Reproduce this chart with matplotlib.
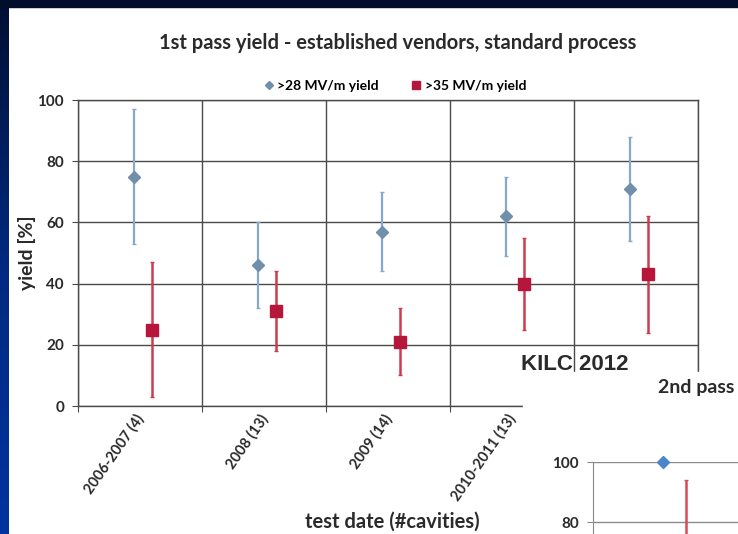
import matplotlib
matplotlib.use('Agg')
import matplotlib.pyplot as plt
from matplotlib.patches import Rectangle
from matplotlib.lines import Line2D
from matplotlib.colors import LinearSegmentedColormap
import numpy as np

plt.rcParams['font.family'] = ['Lato', 'DejaVu Sans']

# dados
categorias = ['2006-2007 (4)', '2008 (13)', '2009 (14)', '2010-2011 (13)', '']
y28 = [75, 46, 57, 62, 71]
y28_lo = [53, 32, 44, 49, 54]
y28_hi = [97, 60, 70, 75, 88]
y35 = [25, 31, 21, 40, 43]
y35_lo = [3, 18, 10, 25, 24]
y35_hi = [47, 44, 32, 55, 62]

# segundo grafico (parcialmente visivel)
y28_2nd = [100]
y35_2nd = [70]
y35_2nd_lo = [45]
y35_2nd_hi = [94]

W, H = 738, 534
fig = plt.figure(figsize=(W / 100, H / 100), dpi=100, facecolor='white')

def px(x0, y0, w, h):
    # retangulo em pixels (origem no topo) -> coordenadas da figura
    return [x0 / W, 1 - (y0 + h) / H, w / W, h / H]

# moldura do slide
fig.patches.append(Rectangle((0, 1 - 7 / H), 1, 7 / H, transform=fig.transFigure,
                             color='#000c2c', zorder=0))
ax_bg = fig.add_axes(px(0, 0, 9, H))
grad = np.linspace(0, 1, 256).reshape(-1, 1)
cm = LinearSegmentedColormap.from_list('slide', ['#000f33', '#002a80', '#0033a0'])
ax_bg.imshow(grad, aspect='auto', cmap=cm, extent=[0, 1, 1, 0])
ax_bg.axis('off')

# grafico principal
ax = fig.add_axes(px(78, 100, 620, 306))
x = np.arange(len(categorias))
grid_c = '#4a4a4a'
txt_c = '#2a2a2a'

ax.errorbar(x - 0.05, y28,
            yerr=[np.subtract(y28, y28_lo), np.subtract(y28_hi, y28)],
            fmt='D', color='#6f8fab', ecolor='#86a8cf', elinewidth=1.6,
            capsize=1.5, markersize=6, zorder=3)
ax.errorbar(x + 0.10, y35,
            yerr=[np.subtract(y35, y35_lo), np.subtract(y35_hi, y35)],
            fmt='s', color='#b5163a', ecolor='#cf3a4c', elinewidth=1.8,
            capsize=1.5, markersize=8, zorder=3)

ax.set_xlim(-0.5, len(categorias) - 0.5)
ax.set_ylim(0, 100)
ax.set_yticks([0, 20, 40, 60, 80, 100])
ax.set_xticks(np.arange(-0.5, len(categorias)), labels=[])
ax.set_xticks(x - 0.04, labels=categorias, minor=True)
ax.grid(True, which='major', color=grid_c, linewidth=1.0)
ax.tick_params(axis='x', which='minor', length=0, pad=4)
ax.tick_params(axis='x', which='major', length=4, color=grid_c)
ax.tick_params(axis='y', length=4, color=grid_c, labelsize=11, pad=6)
for lbl in ax.get_yticklabels():
    lbl.set_fontweight('bold')
    lbl.set_color(txt_c)
for lbl in ax.get_xticklabels(minor=True):
    lbl.set_rotation(55)
    lbl.set_ha('right')
    lbl.set_rotation_mode('anchor')
    lbl.set_fontsize(10.5)
    lbl.set_fontweight('bold')
    lbl.set_color(txt_c)
for s in ax.spines.values():
    s.set_color(grid_c)
    s.set_linewidth(1.0)
ax.set_ylabel('yield [%]', fontsize=14, fontweight='bold', color=txt_c, labelpad=1)

fig.text(398 / W, 1 - 43 / H, '1st pass yield - established vendors, standard process',
         ha='center', va='center', fontsize=14.5, fontweight='bold', color=txt_c)
handles = [Line2D([], [], marker='D', linestyle='none', color='#6f8fab', markersize=4),
           Line2D([], [], marker='s', linestyle='none', color='#b5163a', markersize=6)]
ax.legend(handles, ['>28 MV/m yield', '>35 MV/m yield'], loc='lower center',
          bbox_to_anchor=(0.51, 1.0), ncol=2, frameon=False,
          handletextpad=0.1, columnspacing=2.2, handlelength=1.0, borderaxespad=0.2,
          prop={'weight': 'bold', 'size': 10})
fig.text(392 / W, 1 - 522 / H, 'test date (#cavities)', ha='center', va='center',
         fontsize=14.5, fontweight='bold', color=txt_c)

fig.text(521 / W, 1 - 365 / H, 'KILC 2012', ha='left', va='center',
         fontsize=16, fontweight='bold', family='Liberation Sans', color=txt_c)

# recorte do segundo grafico por cima
fig.patches.append(Rectangle((523 / W, 0), 1, 1 - 372 / H, transform=fig.transFigure,
                             color='white', zorder=5))
fig.text(658 / W, 1 - 387 / H, '2nd pass', ha='left', va='center', fontsize=14,
         fontweight='bold', color=txt_c, zorder=6)

ax2 = fig.add_axes(px(593, 462, 650, 300), zorder=6)
ax2.set_facecolor('none')
x2 = np.arange(len(y28_2nd))
ax2.plot(x2 - 0.07, y28_2nd, 'D', color='#4a86c8', markersize=6, zorder=3, clip_on=False)
ax2.errorbar(x2 + 0.07, y35_2nd,
             yerr=[np.subtract(y35_2nd, y35_2nd_lo), np.subtract(y35_2nd_hi, y35_2nd)],
             fmt='s', color='#b5163a', ecolor='#d84a58', elinewidth=1.8,
             capsize=1.5, markersize=8, zorder=3)
ax2.set_xlim(-0.5, 3.5)
ax2.set_ylim(0, 100)
ax2.set_yticks([80, 100])
ax2.set_xticks([])
ax2.grid(True, axis='y', color='#8a8a8a', linewidth=1.0)
ax2.tick_params(axis='y', length=4, color='#8a8a8a', labelsize=11, pad=6)
for lbl in ax2.get_yticklabels():
    lbl.set_fontweight('bold')
    lbl.set_color(txt_c)
for k, s in ax2.spines.items():
    s.set_color('#8a8a8a')
    s.set_visible(k == 'left')

fig.savefig('out.png', dpi=100, facecolor='white')
